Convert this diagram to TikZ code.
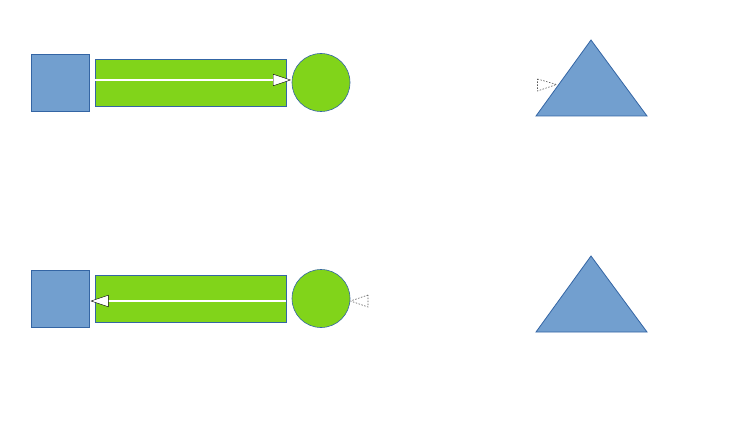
\documentclass[tikz,border=0pt]{standalone}
\usetikzlibrary{arrows.meta,shapes.geometric}
\definecolor{boxblue}{HTML}{729FCF}
\definecolor{edgeblue}{HTML}{3465A4}
\definecolor{leafgreen}{HTML}{81D41A}
\tikzset{
  bluesq/.style={draw=edgeblue,fill=boxblue,line width=0.8pt,minimum width=58pt,minimum height=57pt,inner sep=0pt,outer sep=0pt},
  greenbar/.style={draw=edgeblue,fill=leafgreen,line width=0.8pt,minimum width=191pt,minimum height=47pt,inner sep=0pt,outer sep=0pt},
  greendisc/.style={circle,draw=edgeblue,fill=leafgreen,line width=0.6pt,minimum size=58pt,inner sep=0pt,outer sep=0pt},
  tri/.style={draw=edgeblue,fill=boxblue,line width=0.8pt,line join=miter},
  conn/.style={draw=white,line width=1.2pt,-{Triangle[length=18pt,width=12pt,color=black,fill=white,line width=0.4pt]}},
  ghosthead/.style={draw=black!65,dash pattern=on 1.5pt off 1.5pt,line width=0.6pt,fill=white}
}
\begin{document}
\begin{tikzpicture}[x=1pt,y=-1pt]
\useasboundingbox (0,0) rectangle (747,422);
% top row
\node[bluesq] (sqA) at (60,82.5) {};
\node[greenbar] (barA) at (190.5,82.5) {};
\node[greendisc] (cirA) at (321,82.5) {};
\coordinate (tipA) at (291,80);
\draw[conn] (barA.west |- tipA) -- (tipA);
\filldraw[tri] (591,40) -- (647,116) -- (536,116) -- cycle;
\draw[ghosthead] (537.5,79) -- (556.5,84.5) -- (537.5,91) -- cycle;
% bottom row
\node[bluesq] (sqB) at (60,298.5) {};
\node[greenbar] (barB) at (190.5,298.5) {};
\node[greendisc] (cirB) at (321,298.5) {};
\coordinate (tipB) at (90.5,301);
\draw[conn] (barB.east |- tipB) -- (tipB);
\draw[ghosthead] (368,295) -- (350.5,301) -- (368,307) -- cycle;
\filldraw[tri] (591,256) -- (647,332) -- (536,332) -- cycle;
\end{tikzpicture}
\end{document}
